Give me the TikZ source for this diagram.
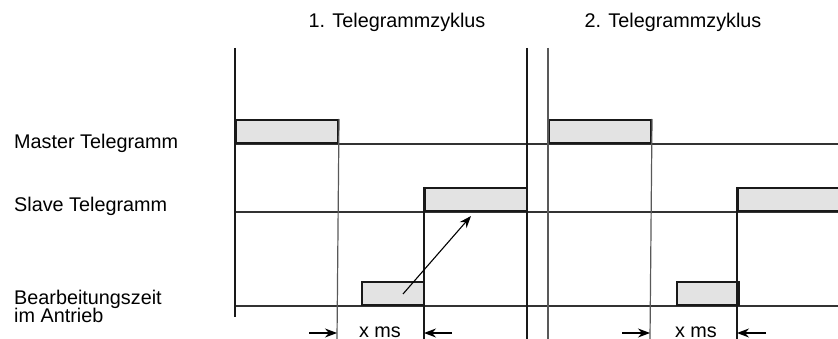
\documentclass[tikz,border=0pt]{standalone}
\usepackage{fontspec}
\setmainfont{Liberation Sans}
\usetikzlibrary{arrows.meta}
\begin{document}
\begin{tikzpicture}[x=1pt,y=-1pt,
  every node/.style={font=\fontsize{19.8}{22}\selectfont, inner sep=0pt},
  axis/.style={line width=1.3pt, black!80},
  grid/.style={line width=1.2pt, black!65},
  gridk/.style={line width=1.1pt, black!90},
  tbox/.style={draw=black!90, line width=2pt, fill=black!11, minimum height=23pt, anchor=south west},
  span/.style={line width=1.2pt, -{Stealth[length=12pt,width=9pt]}},
  label/.style={anchor=base west}]
\useasboundingbox (0,0) rectangle (838,339);
\clip (0,0) rectangle (838,339);

% cycle titles
\node[anchor=base] (t1) at (397,28) {1. Telegrammzyklus};
\node[anchor=base] (t2) at (673,28) {2. Telegrammzyklus};

% row labels
\node[label] (lm) at (14,149) {Master Telegramm};
\node[label] (ls) at (14,212) {Slave Telegramm};
\node[label] (lb) at (14,304) {Bearbeitungszeit};
\node[label] (lb2) at (14,322) {im Antrieb};

% time axes of the three rows
\draw[axis] (235,144) -- (838,144);
\draw[axis] (235,212) -- (838,212);
\draw[axis] (235,306) -- (838,306);

% telegram and processing blocks
\node[tbox, minimum width=102pt] (m1) at (235,144) {};
\node[tbox, minimum width=102pt] (m2) at (548,144) {};
\node[tbox, minimum width=102pt] (s1) at (424,212) {};
\node[tbox, minimum width=102pt] (s2) at (737,212) {};
\node[tbox, minimum width=62pt] (b1) at (361,306) {};
\node[tbox, minimum width=62pt] (b2) at (676,306) {};

% cycle boundaries and timing marks
\coordinate (top1) at (235,48);
\coordinate (bot1) at (235,317);
\draw[gridk] (top1) -- (bot1);
\draw[gridk] (527,48) -- (527,339);
\draw[grid] (548,48) -- (548,339);
\draw[grid] (m1.north east) -- (337,339);
\draw[grid] (m2.north east) -- (650,339);
\draw[gridk] (s1.north west) -- (424,339);
\draw[gridk] (s2.north west) -- (737,339);

% processing result feeds the slave telegram
\coordinate (pa) at (403,294);
\coordinate (pb) at (471,216);
\draw[line width=1.1pt, -{Stealth[length=12pt,width=9pt]}] (pa) -- (pb);

% duration markers
\coordinate (a1) at (309,333); \coordinate (a1e) at (337,333);
\coordinate (a2) at (452,333); \coordinate (a2e) at (424,333);
\coordinate (a3) at (622,333); \coordinate (a3e) at (650,333);
\coordinate (a4) at (766,333); \coordinate (a4e) at (737,333);
\draw[span] (a1) -- (a1e);
\draw[span] (a2) -- (a2e);
\draw[span] (a3) -- (a3e);
\draw[span] (a4) -- (a4e);
\node[anchor=base] (x1) at (380,337.5) {x ms};
\node[anchor=base] (x2) at (696,337.5) {x ms};
\end{tikzpicture}
\end{document}
